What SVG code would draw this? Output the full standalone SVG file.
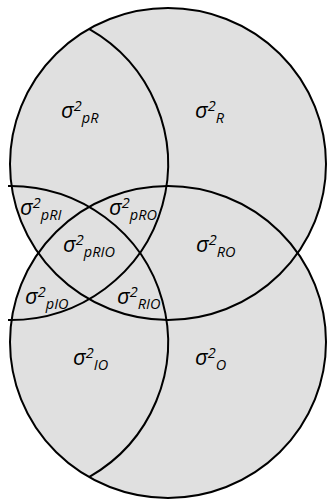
<svg xmlns="http://www.w3.org/2000/svg" width="327" height="501" viewBox="0 0 327 501">
<style>
.fill{fill:#e0e0e0;stroke:none}
.ln{fill:none;stroke:#000;stroke-width:2}
.lb{font-family:"Open Sans","DejaVu Sans",sans-serif;font-style:italic;font-size:22px;fill:#000}
.sp{font-size:14.5px}
</style>
<rect width="327" height="501" fill="#fff"/>
<g id="fills">
<ellipse class="fill" cx="168" cy="164" rx="158" ry="156"/>
<ellipse class="fill" cx="168" cy="342" rx="158" ry="156"/>
</g>
<g id="circle-R"><ellipse class="ln" cx="168" cy="164" rx="158" ry="156"/></g>
<g id="circle-O"><ellipse class="ln" cx="168" cy="342" rx="158" ry="156"/></g>
<g id="circle-p"><path class="ln" d="M89 28.9 A158 156 0 0 1 8 320"/></g>
<g id="circle-I"><path class="ln" d="M8 186 A158 156 0 0 1 89 477.1"/></g>
<g id="labels">
<text class="lb" x="61" y="118">σ<tspan class="sp" y="111">2</tspan><tspan class="sp" y="123">pR</tspan></text>
<text class="lb" x="195" y="118">σ<tspan class="sp" y="111">2</tspan><tspan class="sp" y="123">R</tspan></text>
<text class="lb" x="20" y="215">σ<tspan class="sp" y="208">2</tspan><tspan class="sp" y="220">pRI</tspan></text>
<text class="lb" x="109" y="215">σ<tspan class="sp" y="208">2</tspan><tspan class="sp" y="220">pRO</tspan></text>
<text class="lb" x="63" y="252">σ<tspan class="sp" y="245">2</tspan><tspan class="sp" y="257">pRIO</tspan></text>
<text class="lb" x="196" y="252">σ<tspan class="sp" y="245">2</tspan><tspan class="sp" y="257">RO</tspan></text>
<text class="lb" x="25" y="304">σ<tspan class="sp" y="297">2</tspan><tspan class="sp" y="309">pIO</tspan></text>
<text class="lb" x="117" y="304">σ<tspan class="sp" y="297">2</tspan><tspan class="sp" y="309">RIO</tspan></text>
<text class="lb" x="73" y="365">σ<tspan class="sp" y="358">2</tspan><tspan class="sp" y="370">IO</tspan></text>
<text class="lb" x="195" y="365">σ<tspan class="sp" y="358">2</tspan><tspan class="sp" y="370">O</tspan></text>
</g>
</svg>
